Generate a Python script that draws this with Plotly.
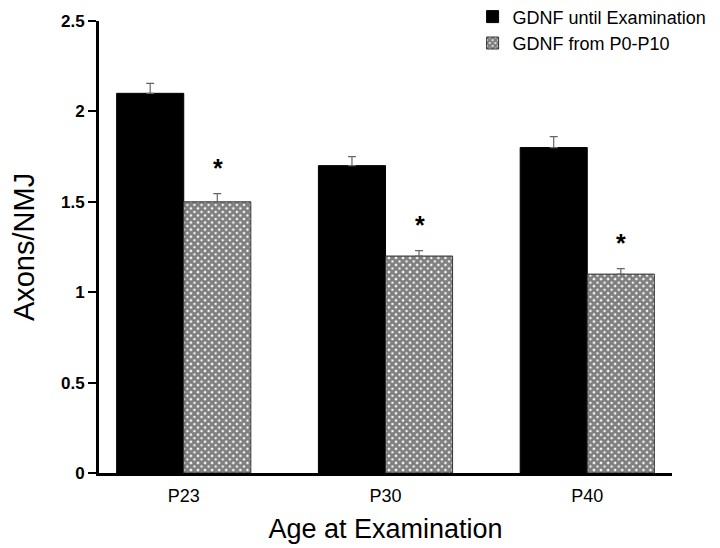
import plotly.graph_objects as go

# --- datos ---
edades = ["P23", "P30", "P40"]
hasta_examen = [2.1, 1.7, 1.8]
hasta_examen_err = [0.055, 0.05, 0.06]
p0_p10 = [1.5, 1.2, 1.1]
p0_p10_err = [0.045, 0.03, 0.03]
nombres = ["GDNF until Examination", "GDNF from P0-P10"]

fuente = "Liberation Sans, Arial, sans-serif"

fig = go.Figure()
fig.add_trace(go.Bar(
    x=edades, y=hasta_examen, name=nombres[0],
    marker=dict(color="black", line=dict(color="black", width=1)),
    error_y=dict(type="data", symmetric=False, array=hasta_examen_err,
                 arrayminus=[0] * len(edades), color="#666666", thickness=1.2, width=4),
))
fig.add_trace(go.Bar(
    x=edades, y=p0_p10, name=nombres[1],
    marker=dict(color="white", line=dict(color="#333333", width=1),
                pattern=dict(shape="x", size=5, solidity=0.82,
                             fgcolor="black", bgcolor="white", fillmode="overlay")),
    error_y=dict(type="data", symmetric=False, array=p0_p10_err,
                 arrayminus=[0] * len(edades), color="#666666", thickness=1.2, width=4),
))

# asteriscos de significancia encima de las barras P0-P10
for edad, v, e in zip(edades, p0_p10, p0_p10_err):
    fig.add_annotation(x=edad, y=v + e, xshift=34, yshift=10, yanchor="bottom",
                       text="<b>*</b>", showarrow=False,
                       font=dict(family=fuente, size=25, color="black"))

# la pagina tiene 8px de margen en el body, por eso 712x540
fig.update_layout(
    width=712, height=540,
    margin=dict(l=91, r=48, t=13, b=75, autoexpand=False),
    paper_bgcolor="white", plot_bgcolor="white",
    barmode="group", bargap=0.335, bargroupgap=0,
    font=dict(family=fuente, color="black"),
    legend=dict(x=0.652, y=1.05, xanchor="left", yanchor="top",
                font=dict(size=18), bgcolor="rgba(0,0,0,0)",
                itemwidth=30, tracegroupgap=2),
    showlegend=True,
)
fig.update_xaxes(
    range=[-0.42, 2.42], showline=True, linecolor="black", linewidth=3,
    ticks="", tickfont=dict(size=18), ticklabelstandoff=4,
    title=dict(text="Age at Examination", font=dict(size=27), standoff=15),
    showgrid=False,
)
fig.update_yaxes(
    range=[0, 2.5], tickvals=[0, 0.5, 1, 1.5, 2, 2.5],
    ticktext=["0", "0.5", "1", "1.5", "2", "2.5"],
    showline=True, linecolor="black", linewidth=3,
    ticks="outside", ticklen=8, tickwidth=2, tickcolor="black",
    tickfont=dict(size=17, weight="bold"),
    title=dict(text="Axons/NMJ", font=dict(size=29), standoff=24),
    showgrid=False, zeroline=False,
)

fig.write_html("out.html")
